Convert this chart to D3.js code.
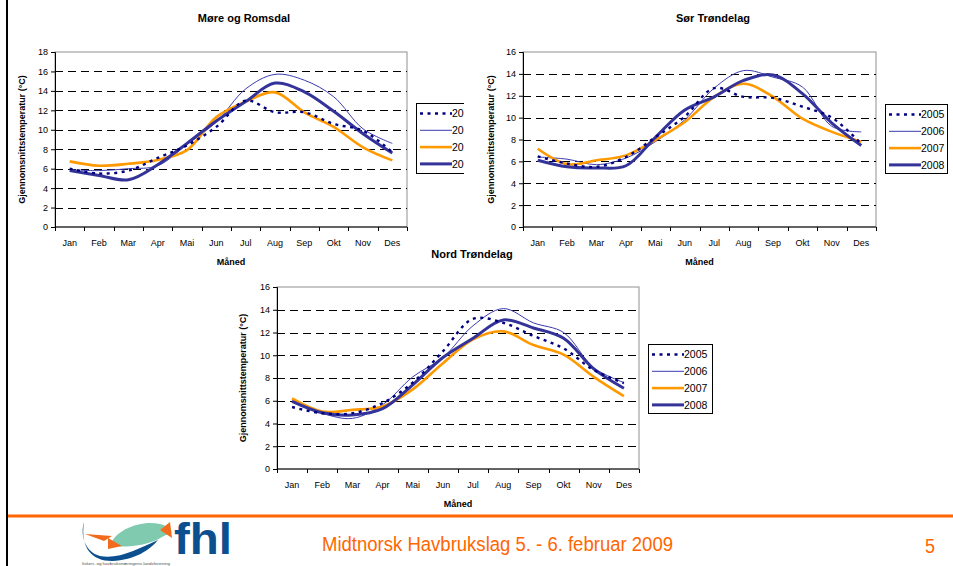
<!DOCTYPE html>
<html>
<head>
<meta charset="utf-8">
<script src="https://cdn.jsdelivr.net/npm/d3@7"></script>
<style>
  html, body { margin: 0; padding: 0; background: #fff; }
  svg { display: block; }
  text { font-family: "Liberation Sans", Arial, sans-serif; }
</style>
</head>
<body>
<svg id="chart" width="953" height="566"></svg>
<script>
// ---------- DATA ----------
const months = ["Jan","Feb","Mar","Apr","Mai","Jun","Jul","Aug","Sep","Okt","Nov","Des"];
const years = ["2005","2006","2007","2008"];

const titleMore = "Møre og Romsdal";
const titleSor = "Sør Trøndelag";
const titleNord = "Nord Trøndelag";
const yAxisTitle = "Gjennomsnittstemperatur (°C)";
const xAxisTitle = "Måned";

const moreTicks = [0,2,4,6,8,10,12,14,16,18];
const trondTicks = [0,2,4,6,8,10,12,14,16];

const more2005 = [6.0, 5.5, 5.8, 7.1, 8.4, 10.3, 13.0, 11.8, 11.8, 10.6, 9.9, 7.7];
const more2006 = [5.9, 5.8, 6.0, 6.3, 8.5, 10.8, 14.2, 15.7, 15.1, 13.4, 10.1, 8.6];
const more2007 = [6.75, 6.3, 6.5, 6.9, 7.9, 11.3, 12.9, 13.85, 11.8, 10.3, 8.2, 6.85];
const more2008 = [5.8, 5.3, 4.85, 6.4, 8.6, 10.9, 12.9, 14.8, 13.9, 11.9, 9.6, 7.6];

const sor2005 = [6.45, 5.8, 5.5, 6.4, 8.2, 10.1, 12.7, 11.9, 11.8, 11.0, 10.0, 7.6];
const sor2006 = [6.4, 6.2, 5.7, 6.3, 7.8, 9.8, 12.7, 14.3, 13.7, 12.8, 9.2, 8.7];
const sor2007 = [7.15, 5.75, 6.1, 6.55, 7.95, 9.6, 11.9, 13.1, 11.9, 9.9, 8.7, 7.8];
const sor2008 = [6.1, 5.5, 5.4, 5.6, 8.2, 10.7, 11.9, 13.4, 13.9, 12.2, 9.5, 7.45];

const nord2005 = [5.45, 4.9, 4.9, 5.8, 7.6, 10.35, 13.2, 12.85, 11.7, 10.6, 8.7, 7.55];
const nord2006 = [6.0, 4.9, 4.45, 5.65, 8.1, 9.8, 12.6, 14.1, 12.85, 12.0, 8.9, 7.6];
const nord2007 = [6.2, 5.05, 5.2, 5.5, 7.0, 9.3, 11.4, 12.1, 10.9, 10.05, 8.1, 6.4];
const nord2008 = [5.95, 4.95, 4.75, 5.3, 7.4, 9.8, 11.5, 13.1, 12.4, 11.5, 8.8, 7.1];

const footerText = "Midtnorsk Havbrukslag 5. - 6. februar 2009";
const pageNumber = "5";
const logoSub = "fiskeri- og havbruksnæringens landsforening";

// ---------- STYLES ----------
const seriesStyle = {
  "2005": {color: "#000080", width: 2.4, dash: "3,4.5"},
  "2006": {color: "#3A3AB0", width: 1, dash: null},
  "2007": {color: "#FF9900", width: 2.6, dash: null},
  "2008": {color: "#333399", width: 3, dash: null}
};

const svg = d3.select("#chart");
svg.append("rect").attr("width", 953).attr("height", 566).attr("fill", "#fff");

function drawChart(cfg) {
  const g = svg.append("g");
  if (cfg.bg) {
    g.append("rect").attr("x", cfg.bg[0]).attr("y", cfg.bg[1])
      .attr("width", cfg.bg[2]).attr("height", cfg.bg[3]).attr("fill", "#fff");
  }
  const x = d3.scaleBand().domain(months).range([cfg.left, cfg.right]);
  const y = d3.scaleLinear().domain([0, cfg.ymax]).range([cfg.bottom, cfg.top]);

  g.append("rect").attr("x", cfg.left).attr("y", cfg.top)
    .attr("width", cfg.right - cfg.left).attr("height", cfg.bottom - cfg.top)
    .attr("fill", "#fff").attr("stroke", "#909090").attr("stroke-width", 1);

  g.selectAll(".grid").data(cfg.ticks.filter(t => t > 0 && t < cfg.ymax)).enter()
    .append("line")
    .attr("x1", cfg.left).attr("x2", cfg.right)
    .attr("y1", d => Math.round(y(d)) + 0.5).attr("y2", d => Math.round(y(d)) + 0.5)
    .attr("stroke", "#000").attr("stroke-width", 1).attr("stroke-dasharray", "8,5");

  const ya = d3.axisLeft(y).tickValues(cfg.ticks).tickSize(4).tickPadding(3).tickFormat(d3.format("d"));
  const yg = g.append("g").attr("transform", `translate(${cfg.left},0)`).call(ya);
  yg.select(".domain").attr("stroke", "#000");
  yg.selectAll(".tick line").attr("stroke", "#000");
  yg.selectAll("text").attr("font-size", 9).attr("fill", "#000")
    .attr("font-family", "Liberation Sans, Arial, sans-serif");

  const xa = g.append("g").attr("transform", `translate(0,${cfg.bottom})`);
  xa.append("line").attr("x1", cfg.left).attr("x2", cfg.right).attr("stroke", "#000");
  const bounds = months.map(m => x(m)).concat([cfg.right]);
  xa.selectAll(".xt").data(bounds).enter().append("line")
    .attr("x1", d => Math.round(d) + 0.5).attr("x2", d => Math.round(d) + 0.5)
    .attr("y1", 0).attr("y2", 4).attr("stroke", "#000");
  xa.selectAll(".xl").data(months).enter().append("text")
    .attr("x", d => x(d) + x.bandwidth() / 2).attr("y", 19)
    .attr("text-anchor", "middle").attr("font-size", 9).attr("fill", "#000").text(d => d);

  const line = d3.line()
    .x((d, i) => x(months[i]) + x.bandwidth() / 2)
    .y(d => y(d))
    .curve(d3.curveCatmullRom.alpha(0.5));
  const paths = [];
  years.forEach((yr, k) => {
    const st = seriesStyle[yr];
    const p = g.append("path").datum(cfg.series[k]).attr("d", line)
      .attr("fill", "none").attr("stroke", st.color).attr("stroke-width", st.width)
      .attr("stroke-linejoin", "round");
    if (st.dash) p.attr("stroke-dasharray", st.dash);
    paths.push(p);
  });
  paths[0].raise();

  g.append("text").attr("x", cfg.titleX).attr("y", cfg.titleY).attr("text-anchor", "middle")
    .attr("font-size", 11).attr("font-weight", "bold").text(cfg.title);
  g.append("text").attr("x", (cfg.left + cfg.right) / 2).attr("y", cfg.bottom + 38)
    .attr("text-anchor", "middle").attr("font-size", 9).attr("font-weight", "bold").text(xAxisTitle);
  g.append("text")
    .attr("transform", `translate(${cfg.yTitleX},${(cfg.top + cfg.bottom) / 2}) rotate(-90)`)
    .attr("text-anchor", "middle").attr("font-size", 9).attr("font-weight", "bold").text(yAxisTitle);

  const L = cfg.legend;
  const lg = g.append("g");
  lg.append("rect").attr("x", L.x + 0.5).attr("y", L.y + 0.5).attr("width", L.w).attr("height", L.h)
    .attr("fill", "#fff").attr("stroke", "#000").attr("stroke-width", 1);
  years.forEach((yr, k) => {
    const st = seriesStyle[yr];
    const yy = L.y + 10.5 + k * 16.8;
    const ln = lg.append("line").attr("x1", L.x + 4).attr("x2", L.x + 36)
      .attr("y1", yy).attr("y2", yy).attr("stroke", st.color).attr("stroke-width", st.width);
    if (st.dash) ln.attr("stroke-dasharray", st.dash);
    lg.append("text").attr("x", L.x + 36).attr("y", yy + 3.7).attr("font-size", 10.5).text(yr);
  });
}

drawChart({
  left: 55, right: 407, top: 52, bottom: 227, ymax: 18, ticks: moreTicks,
  series: [more2005, more2006, more2007, more2008],
  title: titleMore, titleX: 244, titleY: 22, yTitleX: 25,
  legend: {x: 416, y: 103, w: 62, h: 70}
});

drawChart({
  bg: [464, 0, 489, 272],
  left: 523, right: 876, top: 52, bottom: 227, ymax: 16, ticks: trondTicks,
  series: [sor2005, sor2006, sor2007, sor2008],
  title: titleSor, titleX: 713, titleY: 22, yTitleX: 494,
  legend: {x: 885, y: 104, w: 62, h: 69}
});

drawChart({
  left: 277, right: 639, top: 287, bottom: 469, ymax: 16, ticks: trondTicks,
  series: [nord2005, nord2006, nord2007, nord2008],
  title: titleNord, titleX: 472, titleY: 258, yTitleX: 246,
  legend: {x: 648, y: 344, w: 64, h: 69}
});

// ---------- PAGE DECORATION ----------
svg.append("line").attr("x1", 7).attr("x2", 7).attr("y1", 0).attr("y2", 566)
  .attr("stroke", "#000").attr("stroke-width", 2);
svg.append("line").attr("x1", 8).attr("x2", 953).attr("y1", 516).attr("y2", 516)
  .attr("stroke", "#FF6600").attr("stroke-width", 3);

svg.append("text").attr("x", 322).attr("y", 551)
  .attr("font-size", 20).attr("fill", "#FF6600")
  .attr("textLength", 351).attr("lengthAdjust", "spacingAndGlyphs").text(footerText);
svg.append("text").attr("x", 930).attr("y", 553).attr("text-anchor", "middle")
  .attr("font-size", 20).attr("fill", "#FF6600")
  .attr("textLength", 10).attr("lengthAdjust", "spacingAndGlyphs").text(pageNumber);

// logo
const logo = svg.append("g");
logo.append("path")
  .attr("d", "M84,522 C80,535 85,552 100,556 C118,560 140,548 158,540 C150,550 135,560 112,561 C92,561 80,548 84,522 Z")
  .attr("fill", "#0B4F8F");
logo.append("path")
  .attr("d", "M110,546 C115,530 140,520 160,524 C168,526 170,530 172,532 L162,537 C150,545 128,548 110,546 Z")
  .attr("fill", "#80CBB0");
logo.append("path")
  .attr("d", "M85,534 L112,536 L104,541 Z").attr("fill", "#F26B1D");
logo.append("path")
  .attr("d", "M160,530 L170,522 L172,538 Z").attr("fill", "#F26B1D");
logo.append("path")
  .attr("d", "M108,538 L122,546 L108,549 Z").attr("fill", "#F26B1D");
logo.append("text").attr("x", 174).attr("y", 554)
  .attr("font-weight", "bold")
  .attr("font-size", 44).attr("fill", "#0B4F8F")
  .attr("textLength", 58).attr("lengthAdjust", "spacingAndGlyphs").text("fhl");
logo.append("text").attr("x", 82).attr("y", 565)
  .attr("font-size", 4).attr("fill", "#555")
  .attr("textLength", 88).attr("lengthAdjust", "spacingAndGlyphs").text(logoSub);
</script>
</body>
</html>
